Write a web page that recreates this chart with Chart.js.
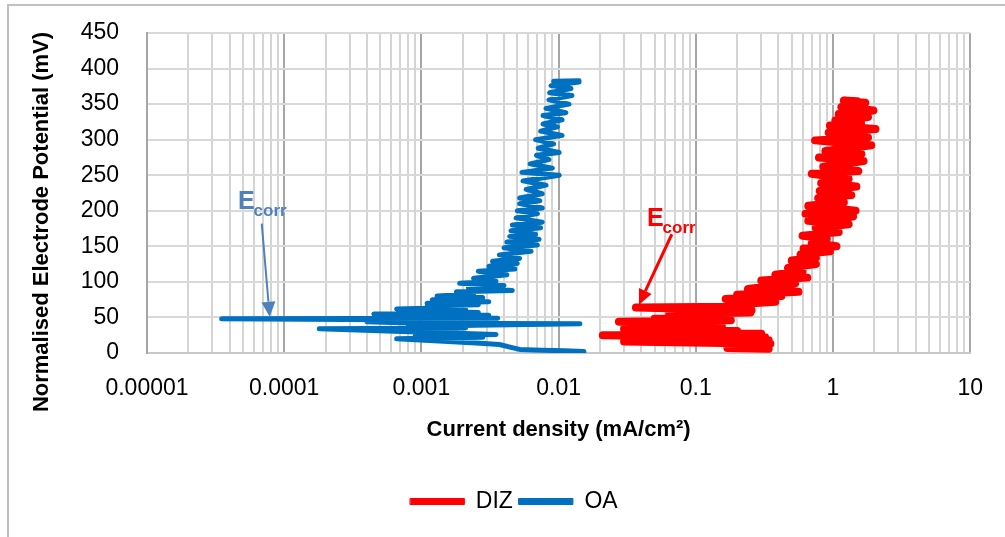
<!DOCTYPE html>
<html>
<head>
<meta charset="utf-8">
<script src="https://cdn.jsdelivr.net/npm/chart.js@4/dist/chart.umd.min.js"></script>
<style>
  html, body { margin: 0; padding: 0; background: #fff; }
  #wrap { position: relative; width: 1005px; height: 537px; }
</style>
</head>
<body>
<div id="wrap"><canvas id="polChart"></canvas></div>
<script>
// decades on the log axis and their labels
const decades = [0.00001, 0.0001, 0.001, 0.01, 0.1, 1, 10];
const decadeLabels = ['0.00001', '0.0001', '0.001', '0.01', '0.1', '1', '10'];

// DIZ polarisation curve (current density mA/cm2, potential mV)
const dizCurrent = [0.34,0.17,0.33,0.2,0.35,0.03,0.34,0.05,0.32,0.021,
  0.3,0.04,0.2,0.03,0.155,0.04,0.12,0.0275,0.18,0.05,
  0.15,0.064,0.25,0.09,0.255,0.0366,0.2,0.174,0.38,0.165,
  0.42,0.2,0.56,0.24,0.53,0.3,0.65,0.38,0.6,0.47,
  0.75,0.5,0.75,0.58,0.95,0.61,1.06,0.7,0.9,0.6,
  1.1,0.75,1.3,0.66,1.4,0.63,1.46,0.66,1.2,0.78,
  1.36,0.8,1.48,0.82,1.3,0.7,1.53,0.85,1.67,0.79,
  1.61,0.88,1.9,0.74,1.8,0.93,2.04,0.95,1.6,1.04,
  1.8,1.1,1.97,1.15,1.72,1.2,1.5];
const dizPotential = [6,7,9,11,13,16,18,20,22,25,
  27,29,31,34,37,39,41,44,46,48,
  50,55,57,59,60,64,65,68,72,76,
  80,82,86,90,98,102,106,110,115,120,
  125,130,134,139,143,147,150,155,161,165,
  170,176,181,186,192,196,200,207,212,218,
  222,228,234,239,245,252,256,262,270,275,
  280,284,292,299,303,310,315,320,324,327,
  332,336,341,346,352,355,354];

// OA polarisation curve
const oaCurrent = [0.0153,0.011,0.0075,0.0052,0.0045,0.0037,0.0025,0.00066,0.0028,0.0009,
  0.0035,0.0012,0.00018,0.0021,0.0008,0.0025,0.0143,0.0009,0.0004,0.0022,
  0.000035,0.0036,0.0007,0.0031,0.00045,0.0026,0.0012,0.0021,0.00066,0.0018,
  0.0011,0.0026,0.0011,0.0031,0.0012,0.0028,0.0013,0.0024,0.0018,0.0046,
  0.0022,0.0040,0.0019,0.0035,0.0024,0.0042,0.0026,0.0048,0.0031,0.0050,
  0.0033,0.0052,0.0037,0.0063,0.0040,0.0070,0.0042,0.0072,0.0044,0.0068,
  0.0045,0.0074,0.0046,0.0076,0.0049,0.0070,0.0050,0.0076,0.0052,0.0073,
  0.0052,0.0076,0.0058,0.0081,0.0055,0.0101,0.0054,0.0090,0.0062,0.0085,
  0.0069,0.0101,0.0071,0.0092,0.0068,0.0106,0.0074,0.0098,0.0077,0.0106,
  0.0077,0.0113,0.0081,0.0119,0.0085,0.0125,0.0086,0.0123,0.0088,0.0141,
  0.0092,0.0141];
const oaPotential = [2,3,4,5,8,12,14,20,22,24,
  26,29,34,35,37,39,41,42,44,46,
  48,49,51,53,55,57,59,61,62,64,
  66,68,70,72,75,78,80,83,86,88,
  92,95,98,101,105,110,115,118,122,126,
  129,133,138,143,148,152,156,160,164,167,
  172,176,180,184,190,196,200,204,210,214,
  218,224,230,236,242,250,254,260,266,272,
  278,282,288,294,300,306,312,318,322,328,
  334,338,344,350,356,362,366,372,376,381,
  382,383];

// Ecorr call-outs, in data units: label anchor, arrow start, arrow tip
const callouts = [
  { color: '#4f81bd', text: [4.6e-5, 202], from: [6.86e-5, 182], to: [7.84e-5, 51], width: 2 },
  { color: '#ff0000', text: [0.044, 178], from: [0.0669, 167], to: [0.0385, 68], width: 3 }
];

const toPoints = (xs, ys) => xs.map((x, i) => ({ x: x, y: ys[i] }));

Chart.defaults.font.family = "'Liberation Sans', Arial, sans-serif";
Chart.defaults.color = '#1a1a1a';

const decor = {
  id: 'decor',
  beforeDraw(chart) {
    const c = chart.ctx;
    c.save();
    c.fillStyle = '#fff';
    c.fillRect(0, 0, chart.width, chart.height);
    c.strokeStyle = '#c0c0c0';
    c.lineWidth = 2;
    c.strokeRect(8, 5, chart.width + 20, chart.height + 20);
    c.restore();
  },
  afterDraw(chart) {
    const c = chart.ctx;
    const xs = chart.scales.x, ys = chart.scales.y;
    c.save();
    // y axis title
    c.translate(42, 222);
    c.rotate(-Math.PI / 2);
    c.font = "bold 22px 'Liberation Sans', Arial, sans-serif";
    c.fillStyle = '#000';
    c.textAlign = 'center';
    c.textBaseline = 'middle';
    c.fillText('Normalised Electrode Potential (mV)', 0, 0);
    c.restore();

    callouts.forEach(co => {
      const tx = xs.getPixelForValue(co.text[0]), ty = ys.getPixelForValue(co.text[1]);
      c.save();
      c.fillStyle = co.color;
      c.textBaseline = 'alphabetic';
      c.textAlign = 'left';
      c.font = "bold 25px 'Liberation Sans', Arial, sans-serif";
      c.fillText('E', tx, ty);
      const w = c.measureText('E').width;
      c.font = "bold 17px 'Liberation Sans', Arial, sans-serif";
      c.fillText('corr', tx + w - 1, ty + 7);
      // arrow
      const x1 = xs.getPixelForValue(co.from[0]), y1 = ys.getPixelForValue(co.from[1]);
      const x2 = xs.getPixelForValue(co.to[0]), y2 = ys.getPixelForValue(co.to[1]);
      const ang = Math.atan2(y2 - y1, x2 - x1);
      const head = 15, half = 7;
      const bx = x2 - head * Math.cos(ang), by = y2 - head * Math.sin(ang);
      c.strokeStyle = co.color;
      c.lineWidth = co.width;
      c.beginPath();
      c.moveTo(x1, y1);
      c.lineTo(bx, by);
      c.stroke();
      c.beginPath();
      c.moveTo(x2, y2);
      c.lineTo(bx + half * Math.sin(ang), by - half * Math.cos(ang));
      c.lineTo(bx - half * Math.sin(ang), by + half * Math.cos(ang));
      c.closePath();
      c.fill();
      c.restore();
    });
  }
};

const ctx = document.getElementById('polChart').getContext('2d');
new Chart(ctx, {
  type: 'scatter',
  data: {
    datasets: [
      { label: 'DIZ', data: toPoints(dizCurrent, dizPotential), showLine: true,
        borderColor: '#ff0000', backgroundColor: '#ff0000', borderWidth: 8,
        pointRadius: 0, borderJoinStyle: 'round', borderCapStyle: 'round' },
      { label: 'OA', data: toPoints(oaCurrent, oaPotential), showLine: true,
        borderColor: '#0070c0', backgroundColor: '#0070c0', borderWidth: 5,
        pointRadius: 0, borderJoinStyle: 'round', borderCapStyle: 'round' }
    ]
  },
  options: {
    responsive: true,
    maintainAspectRatio: false,
    animation: false,
    layout: { padding: { left: 56, right: 33, top: 33, bottom: 14 } },
    plugins: {
      legend: {
        position: 'bottom',
        labels: {
          boxWidth: 54, boxHeight: 6, padding: 6, font: { size: 23 }, color: '#000',
          generateLabels(chart) {
            const items = Chart.defaults.plugins.legend.labels.generateLabels(chart);
            items.forEach(it => { it.lineWidth = 1; });
            return items;
          }
        }
      },
      tooltip: { enabled: false }
    },
    scales: {
      x: {
        type: 'logarithmic',
        min: 0.00001,
        max: 10,
        afterBuildTicks(scale) {
          const t = [];
          decades.forEach((d, k) => {
            t.push({ value: d, major: true });
            if (k < decades.length - 1) {
              for (let m = 2; m <= 9; m++) t.push({ value: d * m, major: false });
            }
          });
          scale.ticks = t;
        },
        afterFit(scale) { scale.height = 131; },
        ticks: {
          autoSkip: false, maxRotation: 0, padding: 22,
          font: { size: 23 }, color: '#000',
          callback(value) {
            const i = decades.indexOf(value);
            return i >= 0 ? decadeLabels[i] : '';
          }
        },
        grid: {
          drawTicks: false, lineWidth: 2,
          color: c => (c.tick && decades.indexOf(c.tick.value) >= 0) ? '#a6a6a6' : '#d4d4d4'
        },
        border: { display: true, color: '#c8c8c8', width: 2 },
        title: {
          display: true, text: 'Current density (mA/cm²)', color: '#000',
          font: { size: 22, weight: 'bold' }, padding: { top: 0, bottom: 41 }
        }
      },
      y: {
        min: 0,
        max: 450,
        afterFit(scale) {
          scale.width = 91;
          scale.paddingTop = 0;
          scale.paddingBottom = 0;
        },
        ticks: { stepSize: 50, padding: 28, font: { size: 23 }, color: '#000' },
        grid: { drawTicks: false, lineWidth: 2, color: '#d9d9d9' },
        border: { display: true, color: '#a6a6a6', width: 2 }
      }
    }
  },
  plugins: [decor]
});
</script>
</body>
</html>
